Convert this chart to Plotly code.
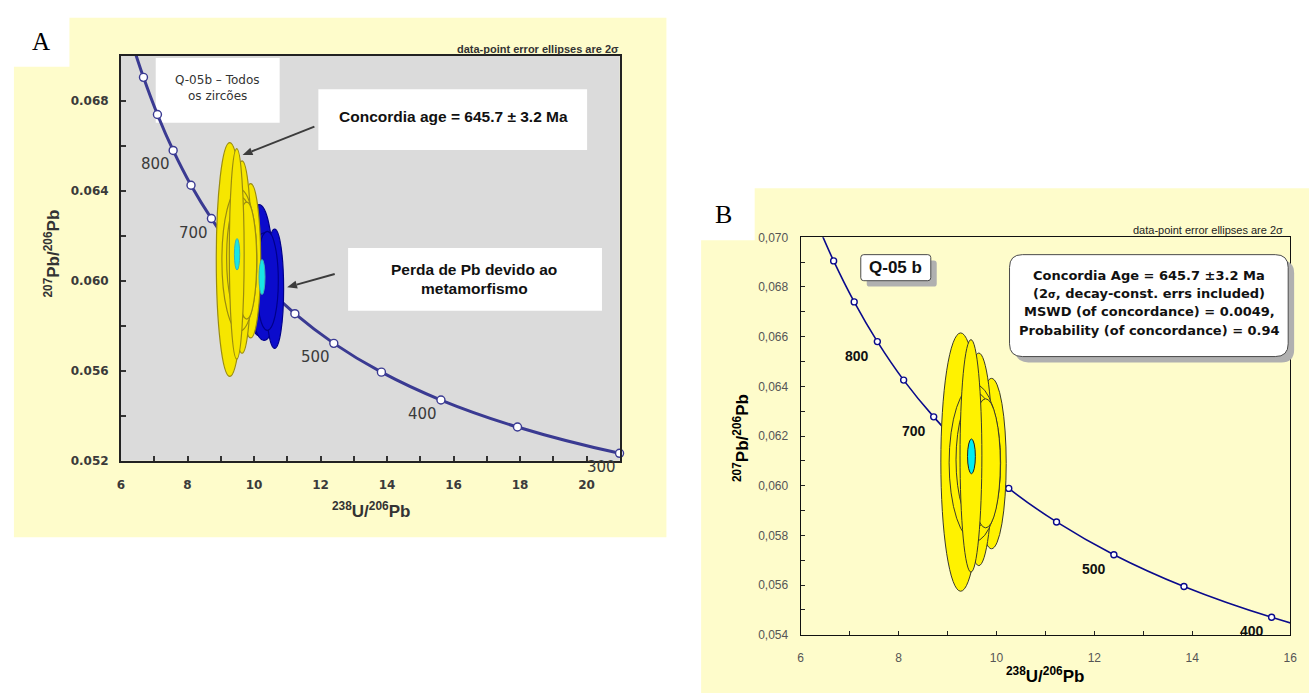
import math
import plotly.graph_objects as go

W, H = 1316, 700

# Tera-Wasserburg concordia: age markers (Ma) with 238U/206Pb and 207Pb/206Pb
conc_age = [950, 900, 850, 800, 750, 700, 650, 600, 550, 500, 450, 400, 350, 300, 250]
conc_x = [6.298, 6.675, 7.095, 7.568, 8.105, 8.719, 9.426, 10.252, 11.228,
          12.399, 13.831, 15.621, 17.923, 20.992, 25.289]
conc_y = [0.07074, 0.06905, 0.06740, 0.06580, 0.06425, 0.06277, 0.06131, 0.05989,
          0.05854, 0.05722, 0.05594, 0.05470, 0.05350, 0.05233, 0.05120]

# marked ages and the ones that get a label
marker_ages = [900, 850, 800, 750, 700, 650, 600, 550, 500, 450, 400, 350, 300]
labels_a = [800, 700, 500, 400, 300]
labels_b = [800, 700, 500, 400]

# zircon analyses, 2-sigma error ellipses (drawing order)
zr_x = [9.27, 9.90, 9.64, 9.56, 9.60, 9.78, 9.48]
zr_y = [0.06095, 0.06089, 0.06106, 0.06092, 0.06104, 0.06090, 0.06120]
zr_ex = [0.405, 0.300, 0.283, 0.526, 0.425, 0.300, 0.223]
zr_ey = [0.00520, 0.00343, 0.00428, 0.00316, 0.00268, 0.00260, 0.00468]

# analyses with Pb loss (panel A)
pbl_x = [10.15, 10.30, 10.62, 10.40]
pbl_y = [0.06048, 0.05974, 0.05965, 0.06000]
pbl_ex = [0.42, 0.42, 0.27, 0.33]
pbl_ey = [0.00291, 0.00239, 0.00265, 0.00220]

# concordia-age ellipses
cage_x = [9.49, 10.24]
cage_y = [0.06118, 0.06017]
cage_ex = [0.080, 0.090]
cage_ey = [0.00070, 0.00078]

# axis ticks
a_xticks = [6, 8, 10, 12, 14, 16, 18, 20]
a_yticks = [0.052, 0.056, 0.060, 0.064, 0.068]
a_yticktext = ["0.052", "0.056", "0.060", "0.064", "0.068"]
b_xticks = [6, 8, 10, 12, 14, 16]
b_yticks = [0.054, 0.056, 0.058, 0.060, 0.062, 0.064, 0.066, 0.068, 0.070]
b_yticktext = ["0,054", "0,056", "0,058", "0,060", "0,062", "0,064", "0,066", "0,068", "0,070"]

SANS = "Liberation Sans, Arial, sans-serif"
WIDE = "DejaVu Sans, Verdana, sans-serif"
SERIF = "Liberation Serif, Times New Roman, serif"

YELLOW_BG = "#fefccb"

# subplot frames in pixels (left, right, top, bottom)
A_BOX = (118, 621, 50, 463)
B_BOX = (803.3, 1297, 235, 640.5)


def pxx(x):
    return x / W


def pxy(y):
    return 1 - y / H


fig = go.Figure()

# ---- concordia curves and age markers
idx = {a: i for i, a in enumerate(conc_age)}
mk_x = [conc_x[idx[a]] for a in marker_ages]
mk_y = [conc_y[idx[a]] for a in marker_ages]

for ax, ay, col, lw, ms, clip in (("x", "y", "#3a3a92", 3, 8, False),
                                  ("x2", "y2", "#0a0a8c", 1.6, 6, True)):
    fig.add_trace(go.Scatter(x=conc_x, y=conc_y, mode="lines", xaxis=ax, yaxis=ay,
                             line=dict(color=col, width=lw, shape="spline", smoothing=1.0),
                             hoverinfo="skip", showlegend=False))
    fig.add_trace(go.Scatter(x=mk_x, y=mk_y, mode="markers", xaxis=ax, yaxis=ay,
                             cliponaxis=clip,
                             marker=dict(size=ms, color="white", line=dict(color=col, width=1.4)),
                             hoverinfo="skip", showlegend=False))

shapes = []

# page backgrounds
shapes += [
    dict(type="rect", xref="paper", yref="paper", x0=pxx(10), x1=pxx(668), y0=pxy(541), y1=pxy(11),
         fillcolor=YELLOW_BG, line_width=0, layer="below"),
    dict(type="rect", xref="paper", yref="paper", x0=0, x1=pxx(66), y0=pxy(61), y1=1,
         fillcolor="white", line_width=0, layer="below"),
    dict(type="rect", xref="paper", yref="paper", x0=pxx(703), x1=1, y0=0, y1=pxy(185),
         fillcolor=YELLOW_BG, line_width=0, layer="below"),
    dict(type="rect", xref="paper", yref="paper", x0=pxx(700), x1=pxx(757), y0=pxy(238), y1=pxy(180),
         fillcolor="white", line_width=0, layer="below"),
]

# panel A plot background (slightly darker grey)
shapes.append(dict(type="rect", xref="x domain", yref="y domain", x0=0, x1=1, y0=0, y1=1,
                   fillcolor="#dbdbdb", line_width=0, layer="below"))


def a_dom(px_x, px_y):
    l, r, t, b = A_BOX
    return (px_x - l) / (r - l), (b - px_y) / (b - t)


# white label boxes in panel A
for (x0, y0, x1, y1) in ((153, 52, 278, 118), (317, 84, 588, 146), (347, 246, 603, 310)):
    dx0, dy1 = a_dom(x0, y0)
    dx1, dy0 = a_dom(x1, y1)
    shapes.append(dict(type="rect", xref="x domain", yref="y domain", x0=dx0, x1=dx1, y0=dy0, y1=dy1,
                       fillcolor="white", line_width=0, layer="below"))


def ellipse(ax, ay, cx, cy, ex, ey, fill, line, lw):
    return dict(type="circle", xref=ax, yref=ay, x0=cx - ex, x1=cx + ex, y0=cy - ey, y1=cy + ey,
                fillcolor=fill, line=dict(color=line, width=lw), layer="above")


# panel A ellipses: Pb-loss group, zircons, then concordia ages
for cx, cy, ex, ey in zip(pbl_x, pbl_y, pbl_ex, pbl_ey):
    shapes.append(ellipse("x", "y", cx, cy, ex, ey, "#0b0bcc", "#00008a", 1.2))
for cx, cy, ex, ey in zip(zr_x, zr_y, zr_ex, zr_ey):
    shapes.append(ellipse("x", "y", cx, cy, ex, ey, "#f6e600", "#9a8c10", 1.2))
for cx, cy, ex, ey in zip(cage_x, cage_y, cage_ex, cage_ey):
    shapes.append(ellipse("x", "y", cx, cy, ex, ey, "#18e6e6", "#40b0b0", 1))

# panel B ellipses
for cx, cy, ex, ey in zip(zr_x, zr_y, zr_ex, zr_ey):
    shapes.append(ellipse("x2", "y2", cx, cy, ex, ey, "#fff200", "#3a3a2a", 1))
shapes.append(ellipse("x2", "y2", cage_x[0], cage_y[0], cage_ex[0], cage_ey[0], "#00eef2", "#222222", 1))


def rounded(x0, y0, x1, y1, r):
    rx, ry = r / W, r / H
    X0, X1 = pxx(x0), pxx(x1)
    Y0, Y1 = pxy(y1), pxy(y0)  # bottom, top in paper units
    return (f"M {X0 + rx},{Y1} L {X1 - rx},{Y1} Q {X1},{Y1} {X1},{Y1 - ry} "
            f"L {X1},{Y0 + ry} Q {X1},{Y0} {X1 - rx},{Y0} L {X0 + rx},{Y0} "
            f"Q {X0},{Y0} {X0},{Y0 + ry} L {X0},{Y1 - ry} Q {X0},{Y1} {X0 + rx},{Y1} Z")


# panel B text boxes with drop shadows
for (x0, y0, x1, y1, r) in ((864, 252.7, 934.6, 279.3, 3), (1014, 252.7, 1295, 356.7, 13)):
    shapes.append(dict(type="path", xref="paper", yref="paper", path=rounded(x0 + 6, y0 + 6, x1 + 6, y1 + 6, r),
                       fillcolor="#b0b0b0", line_width=0, layer="above"))
    shapes.append(dict(type="path", xref="paper", yref="paper", path=rounded(x0, y0, x1, y1, r),
                       fillcolor="white", line=dict(color="#4a4a4a", width=1), layer="above"))

# arrows in panel A (tail -> head, pixels)
for (tx, ty, hx, hy) in ((313, 122, 240.6, 151), (333.5, 272.5, 285.5, 286)):
    ang = math.atan2(hy - ty, hx - tx)
    L, hw = 10, 4
    bx, by = hx - L * math.cos(ang), hy - L * math.sin(ang)
    px_, py_ = -math.sin(ang) * hw, math.cos(ang) * hw
    shapes.append(dict(type="line", xref="paper", yref="paper", x0=pxx(tx), y0=pxy(ty),
                       x1=pxx(bx), y1=pxy(by), line=dict(color="#3c3c3c", width=2), layer="above"))
    shapes.append(dict(type="path", xref="paper", yref="paper",
                       path=(f"M {pxx(hx)},{pxy(hy)} L {pxx(bx + px_)},{pxy(by + py_)} "
                             f"L {pxx(bx - px_)},{pxy(by - py_)} Z"),
                       fillcolor="#3c3c3c", line_width=0, layer="above"))

ann = []


def text(x, y, s, size, family=SANS, color="#111", xanchor="center", angle=0):
    ann.append(dict(x=pxx(x), y=pxy(y), xref="paper", yref="paper", text=s, showarrow=False,
                    xanchor=xanchor, yanchor="middle", textangle=angle,
                    font=dict(size=size, family=family, color=color)))


# panel letters
text(37, 35, "A", 25, SERIF, "#000")
text(726, 212, "B", 26, SERIF, "#000")

# panel A texts
text(622, 43, "<b>data-point error ellipses are 2σ</b>", 11, SANS, "#333", xanchor="right")
text(215, 75, "Q-05b – Todos", 12, WIDE, "#333")
text(215, 91, "os zircões", 12, WIDE, "#333")
text(453, 112, "<b>Concordia age = 645.7 ± 3.2 Ma</b>", 15.5, SANS, "#111")
text(474, 268, "<b>Perda de Pb devido ao</b>", 15.5, SANS, "#111")
text(474, 287, "<b>metamorfismo</b>", 15.5, SANS, "#111")
text(48, 252, "<b><sup>207</sup>Pb/<sup>206</sup>Pb</b>", 17, SANS, "#333", angle=-90)
text(370, 513, "<b><sup>238</sup>U/<sup>206</sup>Pb</b>", 17, SANS, "#333")

# panel B texts
text(1292, 228, "data-point error ellipses are 2σ", 11, SANS, "#222", xanchor="right")
text(899, 266, "<b>Q-05 b</b>", 17, SANS, "#111")
b_lines = ["Concordia Age = 645.7 ±3.2 Ma",
           "(2<span style='font-size:10px'>σ</span>, decay-const. errs included)",
           "MSWD (of concordance) = 0.0049,",
           "Probability (of concordance) = 0.94"]
for i, s in enumerate(b_lines):
    text(1155, 273.5 + i * 18.7, f"<b>{s}</b>", 13, WIDE, "#111")
text(743, 440, "<b><sup>207</sup>Pb/<sup>206</sup>Pb</b>", 17, SANS, "#000", angle=-90)
text(1050, 682, "<b><sup>238</sup>U/<sup>206</sup>Pb</b>", 17, SANS, "#000")

# age labels along the concordia
for a in labels_a:
    ann.append(dict(x=conc_x[idx[a]], y=conc_y[idx[a]], xref="x", yref="y", text=str(a),
                    showarrow=False, xshift=-18, yshift=-14,
                    font=dict(size=15, family=WIDE, color="#3a3a3a")))
for a in labels_b:
    ann.append(dict(x=conc_x[idx[a]], y=conc_y[idx[a]], xref="x2", yref="y2", text=f"<b>{a}</b>",
                    showarrow=False, xshift=-20, yshift=-14,
                    font=dict(size=14, family=SANS, color="#111")))

fig.update_layout(
    width=W, height=H, margin=dict(l=0, r=0, t=0, b=0),
    paper_bgcolor="white", plot_bgcolor="#e1e1e1",
    showlegend=False, shapes=shapes, annotations=ann,
    xaxis=dict(domain=[A_BOX[0] / W, A_BOX[1] / W], range=[6, 21], tickvals=a_xticks,
               ticks="inside", ticklen=5, tickwidth=1.5, tickcolor="#333",
               minor=dict(tickmode="linear", tick0=6, dtick=1, ticks="inside", ticklen=5,
                          tickwidth=1.5, tickcolor="#333"),
               showline=True, linecolor="#222", linewidth=2, mirror=True,
               showgrid=False, zeroline=False, ticklabelstandoff=12,
               tickfont=dict(size=12, family=WIDE, color="#3a3a3a", weight="bold")),
    yaxis=dict(domain=[1 - A_BOX[3] / H, 1 - A_BOX[2] / H], range=[0.052, 0.070],
               tickvals=a_yticks, ticktext=a_yticktext,
               ticks="inside", ticklen=5, tickwidth=1.5, tickcolor="#333",
               minor=dict(tickmode="linear", tick0=0.052, dtick=0.002, ticks="inside", ticklen=5,
                          tickwidth=1.5, tickcolor="#333"),
               showline=True, linecolor="#222", linewidth=2, mirror=True,
               showgrid=False, zeroline=False, ticklabelstandoff=8,
               tickfont=dict(size=12, family=WIDE, color="#3a3a3a", weight="bold")),
    xaxis2=dict(domain=[B_BOX[0] / W, B_BOX[1] / W], range=[6, 16], tickvals=b_xticks,
                anchor="y2",
                ticks="inside", ticklen=4, tickcolor="#222",
                minor=dict(tickmode="linear", tick0=6, dtick=1, ticks="inside", ticklen=4,
                           tickcolor="#222"),
                showline=True, linecolor="#111", linewidth=1, mirror=True,
                showgrid=False, zeroline=False, ticklabelstandoff=12,
                tickfont=dict(size=12, family=SANS, color="#555")),
    yaxis2=dict(domain=[1 - B_BOX[3] / H, 1 - B_BOX[2] / H], range=[0.054, 0.070],
                anchor="x2", tickvals=b_yticks, ticktext=b_yticktext,
                ticks="inside", ticklen=4, tickcolor="#222",
                minor=dict(tickmode="linear", tick0=0.054, dtick=0.001, ticks="inside", ticklen=4,
                           tickcolor="#222"),
                showline=True, linecolor="#111", linewidth=1, mirror=True,
                showgrid=False, zeroline=False, ticklabelstandoff=9,
                tickfont=dict(size=12, family=SANS, color="#555")),
)

fig.write_html("out.html")
